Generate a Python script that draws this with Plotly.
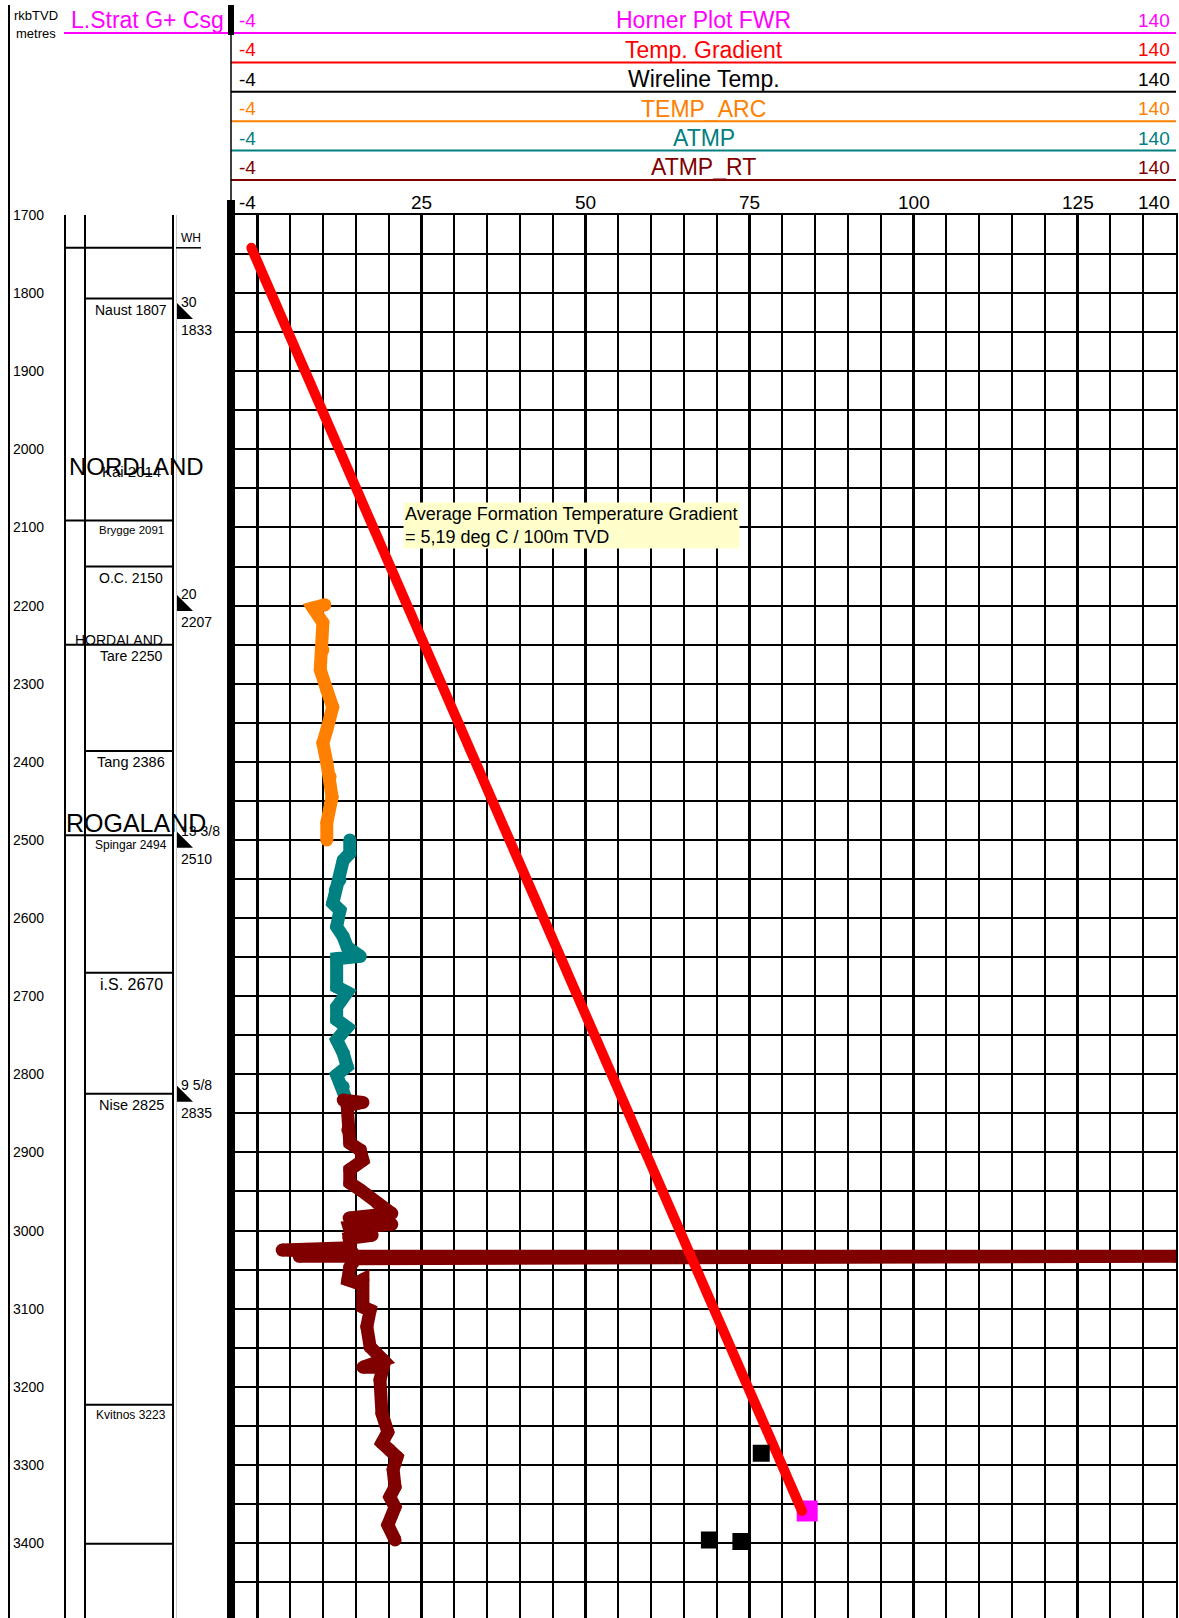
import plotly.graph_objects as go

W, H = 1179, 1618
FONT = "Liberation Sans, Arial, sans-serif"

# ---------------- data ----------------
# depth scale, metres rkb TVD
depth_top, depth_bottom = 1700, 3496
depth_labels = [1700, 1800, 1900, 2000, 2100, 2200, 2300, 2400, 2500,
                2600, 2700, 2800, 2900, 3000, 3100, 3200, 3300, 3400]

# temperature track, deg C
temp_min, temp_max = -4, 140
temp_tick_values = [-4, 25, 50, 75, 100, 125, 140]
temp_tick_labels = ["-4", "25", "50", "75", "100", "125", "140"]

# curve headers
track_names = ["Horner Plot FWR", "Temp. Gradient", "Wireline Temp.",
               "TEMP_ARC", "ATMP", "ATMP_RT"]
track_colors = ["#FF00FF", "#FF0000", "#000000", "#FF8000", "#008080", "#800000"]

# lithostratigraphy
wellhead_depth = 1742
group_names = ["NORDLAND", "HORDALAND", "ROGALAND"]
group_tops = [1742, 2091, 2250, 2494]
formation_names = ["Naust 1807", "Kai 2014", "Brygge 2091", "O.C. 2150", "Tare 2250",
                   "Tang 2386", "Spingar 2494", "i.S. 2670", "Nise 2825", "Kvitnos 3223"]
formation_tops = [1807, 2014, 2091, 2150, 2250, 2386, 2494, 2670, 2825, 3223]
formation_lines = [1807, 2150, 2386, 2670, 2825, 3223, 3401]

# casing shoes
casing_sizes = ["30", "20", "13 3/8", "9 5/8"]
casing_shoes = [1833, 2207, 2510, 2835]

# Horner plot formation water temperature
horner_temp = [83.8]
horner_depth = [3359]

# average formation temperature gradient, 5.19 deg C / 100 m
gradient_temp = [-0.9, 83.0]
gradient_depth = [1742, 3359]

# wireline temperatures
wireline_temp = [76.8, 68.9, 73.7]
wireline_depth = [3285, 3396, 3398]

# TEMP_ARC
arc_temp = [10.3, 8.5, 10.0, 10.0, 9.6, 10.6, 11.5, 10.6, 10.0, 10.6, 11.1, 11.4, 10.6, 10.6]
arc_depth = [2199, 2203, 2222, 2257, 2282, 2308, 2330, 2359, 2376, 2401, 2419, 2445, 2478, 2500]

# ATMP
atmp_temp = [14.1, 14.1, 13.1, 12.6, 11.9, 11.5, 12.6, 12.1, 13.1, 13.7, 15.7, 12.1,
             12.1, 13.7, 12.1, 12.1, 13.7, 12.1, 13.1, 13.7, 12.1, 13.1, 13.4]
atmp_depth = [2500, 2517, 2526, 2551, 2564, 2581, 2590, 2611, 2624, 2637, 2649, 2652,
              2688, 2695, 2714, 2730, 2740, 2756, 2773, 2790, 2801, 2816, 2829]

# ATMP_RT
atmp_rt_temp = [13.1, 16.1, 13.7, 13.8, 14.1, 15.7, 16.1, 14.1, 14.1, 15.7, 18.3, 20.5,
                14.0, 20.5, 14.0, 14.3, 17.5, 14.0, 14.2, 3.8, 14.5, 6.4, 140.0, 15.0,
                14.1, 13.8, 15.2, 16.1, 16.1, 17.2, 16.7, 17.2, 19.2, 16.1, 19.2, 18.7,
                19.0, 19.9, 19.0, 20.2, 21.3, 20.7, 21.0, 20.2, 21.0, 19.9, 21.0]
atmp_rt_depth = [2833, 2836, 2840, 2871, 2888, 2897, 2910, 2922, 2939, 2948, 2965, 2978,
                 2984, 2992, 2996, 3004, 3006, 3010, 3022, 3025, 3028, 3033, 3033, 3036,
                 3047, 3063, 3067, 3063, 3098, 3102, 3123, 3149, 3166, 3175, 3175, 3191,
                 3234, 3258, 3272, 3281, 3290, 3306, 3328, 3341, 3354, 3377, 3396]


# ---------------- helpers (pixel -> paper) ----------------
def fx(x):
    return x / W


def fy(y):
    return 1 - y / H


PX_PER_M = (H - 215) / (depth_bottom - depth_top)

fig = go.Figure()


def log_curve(x, y, color, width, name):
    # thick log trace; dots at every vertex give it rounded joins and ends
    fig.add_trace(go.Scatter(x=x, y=y, mode="lines+markers", name=name,
                             line=dict(color=color, width=width),
                             marker=dict(color=color, size=width, symbol="circle",
                                         line=dict(width=0))))


log_curve(arc_temp, arc_depth, track_colors[3], 13, "TEMP_ARC")
log_curve(atmp_temp, atmp_depth, track_colors[4], 13, "ATMP")
log_curve(atmp_rt_temp, atmp_rt_depth, track_colors[5], 13, "ATMP_RT")
fig.add_trace(go.Scatter(x=horner_temp, y=horner_depth, mode="markers",
                         marker=dict(symbol="square", size=19, color=track_colors[0],
                                     line=dict(color=track_colors[0], width=2)),
                         name="Horner Plot FWR"))
log_curve(gradient_temp, gradient_depth, track_colors[1], 10, "Temp. Gradient")
fig.add_trace(go.Scatter(x=wireline_temp, y=wireline_depth, mode="markers",
                         marker=dict(symbol="square", size=15, color="#000000",
                                     line=dict(color="#000000", width=2)),
                         name="Wireline Temp."))

shapes = []
annotations = []


def line(x0, y0, x1, y1, color="black", width=2, xref="paper", yref="paper"):
    shapes.append(dict(type="line", x0=x0, y0=y0, x1=x1, y1=y1, xref=xref, yref=yref,
                       line=dict(color=color, width=width), layer="above"))


def text(s, x, y, size, color="black", xanchor="center", yanchor="middle",
         xref="paper", yref="paper", yshift=0, **kw):
    annotations.append(dict(text=s, x=x, y=y, xref=xref, yref=yref, showarrow=False,
                            xanchor=xanchor, yanchor=yanchor, yshift=yshift,
                            font=dict(family=FONT, size=size, color=color), **kw))


# ---------------- header ----------------
x_track0, x_track1 = 231, 1176
for i, (name, col) in enumerate(zip(track_names, track_colors)):
    ly = 33 + i * 29.4
    left = 64 if i == 0 else x_track0
    line(fx(left), fy(ly), fx(x_track1), fy(ly), color=col, width=2)
    ty = ly - 12.5
    text(name, fx((x_track0 + x_track1) / 2), fy(ty), 23, color=col)
    text(str(temp_min), fx(237), fy(ty), 19, color=col, xanchor="left")
    text(str(temp_max), fx(1172), fy(ty), 19, color=col, xanchor="right")

text("L.Strat G+ Csg", fx(147), fy(20), 23, color=track_colors[0])
text("rkbTVD", fx(36), fy(15), 13)
text("metres", fx(36), fy(33), 13)

# scale labels above the grid
for v, lab in zip(temp_tick_values, temp_tick_labels):
    xp = x_track0 + (v - temp_min) / (temp_max - temp_min) * (x_track1 - x_track0)
    if v == temp_min:
        text(lab, fx(xp + 6), fy(203), 19, xanchor="left")
    elif v == temp_max:
        text(lab, fx(xp - 4), fy(203), 19, xanchor="right")
    else:
        text(lab, fx(xp), fy(203), 19)

# left frame line
line(fx(9), fy(5), fx(9), 0, width=2)
# track left edge: thick at top, thin through header, thick along the grid
line(fx(x_track0), fy(5), fx(x_track0), fy(35), width=6)
line(fx(x_track0), fy(35), fx(x_track0), fy(200), width=1.5)
line(fx(x_track0), fy(200), fx(x_track0), 0, width=8)

# depth labels
for d in depth_labels:
    text(str(d), fx(11), d, 14, xanchor="left", yref="y")

# ---------------- lithostratigraphy column ----------------
for xc in (65, 85, 173):
    line(fx(xc), depth_top, fx(xc), depth_bottom, width=2, yref="y")
line(fx(176.5), depth_top, fx(176.5), depth_bottom, color="#C8C8C8", width=1, yref="y")

for d in group_tops:
    line(fx(65), d, fx(173), d, width=2, yref="y")
for d in formation_lines:
    line(fx(85), d, fx(173), d, width=2, yref="y")

formation_font = {"Naust 1807": 14, "Kai 2014": 15, "Brygge 2091": 11.5, "O.C. 2150": 14,
                  "Tare 2250": 14, "Tang 2386": 14.5, "Spingar 2494": 12, "i.S. 2670": 16,
                  "Nise 2825": 14.5, "Kvitnos 3223": 12}
for name, d in zip(formation_names, formation_tops):
    sz = formation_font[name]
    text(name, fx(131), d, sz, yref="y", yshift=-(sz * 0.5 + 4))

group_style = {"NORDLAND": (136, 2022, 24), "HORDALAND": (119, 2244, 14),
               "ROGALAND": (136, 2478, 25)}
for g in group_names:
    gx, gd, gs = group_style[g]
    text(g, fx(gx), gd, gs, yref="y")

# wellhead
text("WH", fx(179), wellhead_depth, 12, xanchor="left", yanchor="bottom", yref="y", yshift=1)
line(fx(176), wellhead_depth, fx(201), wellhead_depth, width=1.5, yref="y")

# casing shoes
tri_h = 16 / PX_PER_M
for size, shoe in zip(casing_sizes, casing_shoes):
    shapes.append(dict(type="path", xref="paper", yref="y",
                       path=f"M {fx(177)},{shoe - tri_h} L {fx(177)},{shoe} L {fx(193)},{shoe} Z",
                       fillcolor="black", line=dict(color="black", width=0), layer="above"))
    text(size, fx(179), shoe, 14, xanchor="left", yref="y", yshift=17)
    text(str(shoe), fx(179), shoe, 14, xanchor="left", yref="y", yshift=-11)

# gradient note
text("Average Formation Temperature Gradient<br>= 5,19 deg C / 100m TVD",
     fx(403), fy(502), 18, xanchor="left", yanchor="top", align="left",
     bgcolor="#FFFFCC", borderpad=1)

fig.update_layout(
    width=W, height=H,
    margin=dict(l=0, r=0, t=0, b=0),
    paper_bgcolor="white", plot_bgcolor="white",
    showlegend=False,
    shapes=shapes,
    annotations=annotations,
    xaxis=dict(domain=[fx(x_track0), fx(x_track1)], range=[temp_min, temp_max],
               showticklabels=False, ticks="", zeroline=False,
               showgrid=True, tick0=0, dtick=25, gridcolor="black", gridwidth=2.5,
               minor=dict(tick0=0, dtick=5, showgrid=True, gridcolor="black", gridwidth=2),
               showline=True, mirror=True, linecolor="black", linewidth=2),
    yaxis=dict(domain=[0, fy(215)], range=[depth_bottom, depth_top],
               showticklabels=False, ticks="", zeroline=False,
               showgrid=True, tick0=depth_top, dtick=50, gridcolor="black", gridwidth=2,
               showline=True, mirror=True, linecolor="black", linewidth=2),
)

fig.write_html("out.html")
